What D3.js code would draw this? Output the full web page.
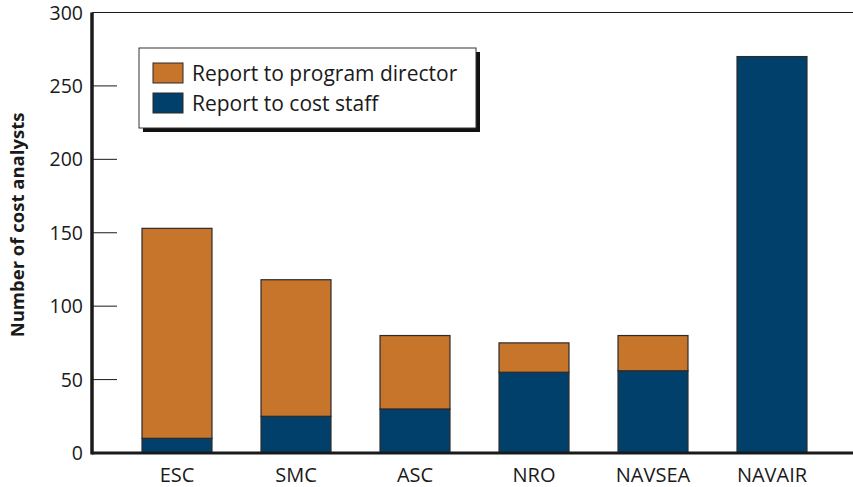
<!DOCTYPE html>
<html>
<head>
<meta charset="utf-8">
<script src="https://cdn.jsdelivr.net/npm/d3@7"></script>
<style>
  body { margin: 0; background: #fff; }
  text { font-family: "Open Sans", "Noto Sans", sans-serif; fill: #1a1a1a; }
</style>
</head>
<body>
<div id="chart"></div>
<script>
// data
var categories = ["ESC", "SMC", "ASC", "NRO", "NAVSEA", "NAVAIR"];
var costStaff = [10, 25, 30, 55, 56, 270];
var programDirector = [143, 93, 50, 20, 24, 0];
var seriesNames = ["Report to program director", "Report to cost staff"];
var yTicks = [0, 50, 100, 150, 200, 250, 300];

var width = 853, height = 487;
var plotLeft = 92, plotTop = 12.5, plotBottom = 453;

var colors = { director: "#c6752b", staff: "#00406a" };

var svg = d3.select("#chart").append("svg")
  .attr("width", width)
  .attr("height", height);

var x = d3.scaleBand()
  .domain(categories)
  .range([117.5, 831.5])
  .paddingInner(0.412)
  .paddingOuter(0.206);

var y = d3.scaleLinear().domain([0, 300]).range([plotBottom, plotTop]);

// stacked data
var rows = categories.map(function (c, i) {
  return { cat: c, staff: costStaff[i], director: programDirector[i] };
});
var stack = d3.stack().keys(["staff", "director"]);
var layers = stack(rows);

// top frame line
svg.append("line")
  .attr("x1", plotLeft).attr("x2", width)
  .attr("y1", y(300)).attr("y2", y(300))
  .attr("stroke", "#1a1a1a").attr("stroke-width", 1);

// ticks (inside) and labels
svg.selectAll(".tick")
  .data(yTicks.filter(function (d) { return d > 0 && d < 300; }))
  .enter().append("line")
  .attr("x1", plotLeft).attr("x2", 117)
  .attr("y1", function (d) { return y(d); })
  .attr("y2", function (d) { return y(d); })
  .attr("stroke", "#1a1a1a").attr("stroke-width", 1);

svg.selectAll(".ylab")
  .data(yTicks)
  .enter().append("text")
  .attr("x", 83)
  .attr("y", function (d) { return y(d); })
  .attr("dy", "0.36em")
  .attr("text-anchor", "end")
  .style("font-size", "19.5px")
  .text(function (d) { return d; });

// bars
layers.forEach(function (layer) {
  svg.append("g")
    .selectAll("rect")
    .data(layer.filter(function (d) { return d[1] > d[0]; }))
    .enter().append("rect")
    .attr("x", function (d) { return x(d.data.cat); })
    .attr("width", x.bandwidth())
    .attr("y", function (d) { return y(d[1]); })
    .attr("height", function (d) { return y(d[0]) - y(d[1]); })
    .attr("fill", colors[layer.key])
    .attr("stroke", "#2b2b2b")
    .attr("stroke-width", 1.2);
});

// axes lines
svg.append("line")
  .attr("x1", plotLeft).attr("x2", plotLeft)
  .attr("y1", y(300)).attr("y2", plotBottom + 1.5)
  .attr("stroke", "#1a1a1a").attr("stroke-width", 3.5);
svg.append("line")
  .attr("x1", plotLeft).attr("x2", width)
  .attr("y1", plotBottom).attr("y2", plotBottom)
  .attr("stroke", "#1a1a1a").attr("stroke-width", 3);

// category labels
svg.selectAll(".xlab")
  .data(categories)
  .enter().append("text")
  .attr("x", function (d) { return x(d) + x.bandwidth() / 2; })
  .attr("y", 482)
  .attr("text-anchor", "middle")
  .style("font-size", "20px")
  .text(function (d) { return d; });

// y title
svg.append("text")
  .attr("transform", "translate(24,225) rotate(-90)")
  .attr("text-anchor", "middle")
  .style("font-size", "18.5px")
  .style("font-weight", "bold")
  .text("Number of cost analysts");

// legend
var legend = svg.append("g").attr("transform", "translate(139,48)");
legend.append("rect")
  .attr("x", 4).attr("y", 4)
  .attr("width", 337).attr("height", 80)
  .attr("fill", "#111");
legend.append("rect")
  .attr("x", 0).attr("y", 0)
  .attr("width", 337).attr("height", 80)
  .attr("fill", "#fff")
  .attr("stroke", "#333").attr("stroke-width", 1);

var legendItems = legend.selectAll(".legend-item")
  .data([
    { name: seriesNames[0], color: colors.director },
    { name: seriesNames[1], color: colors.staff }
  ])
  .enter().append("g")
  .attr("transform", function (d, i) { return "translate(14," + (15 + i * 30) + ")"; });

legendItems.append("rect")
  .attr("width", 30).attr("height", 20)
  .attr("fill", function (d) { return d.color; })
  .attr("stroke", "#2b2b2b").attr("stroke-width", 1);

legendItems.append("text")
  .attr("x", 39).attr("y", 10)
  .attr("dy", "0.36em")
  .style("font-size", "21px")
  .text(function (d) { return d.name; });
</script>
</body>
</html>
